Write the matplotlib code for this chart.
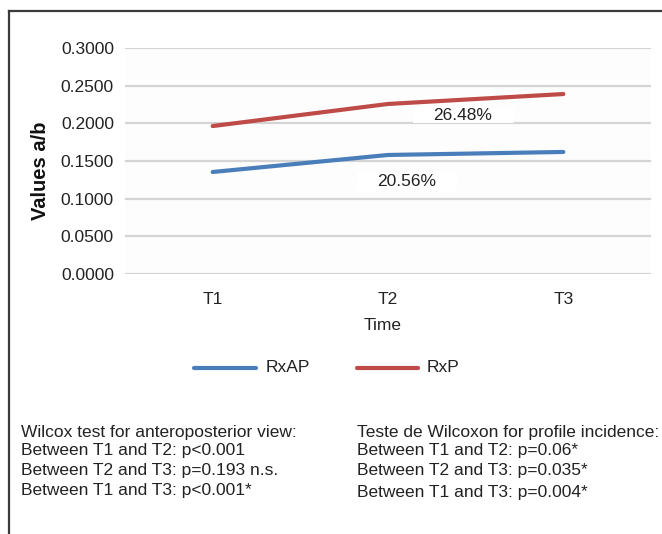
import matplotlib
matplotlib.use("Agg")
import matplotlib.pyplot as plt
from matplotlib.lines import Line2D
from matplotlib.patches import Rectangle

plt.rcParams['font.family'] = ['Liberation Sans', 'DejaVu Sans']

categories = ["T1", "T2", "T3"]
rxap = [0.1354, 0.1580, 0.1620]
rxp = [0.1964, 0.2257, 0.2389]
yticks = [0.0, 0.05, 0.10, 0.15, 0.20, 0.25, 0.30]
series_names = ["RxAP", "RxP"]
pct_labels = ["26.48%", "20.56%"]
left_notes = ["Wilcox test for anteroposterior view:",
              "Between T1 and T2: p<0.001",
              "Between T2 and T3: p=0.193 n.s.",
              "Between T1 and T3: p<0.001*"]
right_notes = ["Teste de Wilcoxon for profile incidence:",
               "Between T1 and T2: p=0.06*",
               "Between T2 and T3: p=0.035*",
               "Between T1 and T3: p=0.004*"]

W, H = 662, 534
blue = "#4a7ebb"
red = "#be4b48"
txt = "#222222"
FS = 12.5

fig = plt.figure(figsize=(W / 100, H / 100), dpi=100)
fig.patch.set_facecolor("white")

def fx(px):
    return px / W

def fy(py):
    return 1 - py / H

# outer border (top and left visible)
fig.add_artist(Line2D([fx(9), fx(662)], [fy(11), fy(11)], color="#3a3a3a", lw=1.6))
fig.add_artist(Line2D([fx(9), fx(9)], [fy(11), fy(534)], color="#3a3a3a", lw=1.6))

ax = fig.add_axes([fx(125), fy(274), fx(651) - fx(125), (274 - 48) / H])
x = list(range(len(categories)))
ax.plot(x, rxap, color=blue, lw=3, solid_capstyle="round", zorder=3)
ax.plot(x, rxp, color=red, lw=3, solid_capstyle="round", zorder=3)

ax.set_xlim(-0.5, 2.5)
ax.set_ylim(0, 0.3)
ax.set_yticks(yticks)
ax.set_yticklabels([f"{v:.4f}" for v in yticks], fontsize=FS, color=txt)
ax.set_xticks(x)
ax.set_xticklabels(categories, fontsize=FS, color=txt)
ax.tick_params(axis="both", length=0)
ax.tick_params(axis="y", pad=8)
ax.tick_params(axis="x", pad=13)
for s in ax.spines.values():
    s.set_visible(False)
ax.set_axisbelow(True)
ax.yaxis.grid(True, color="#d4d4d4", lw=1.6)
ax.set_facecolor("#fdfdfd")

# label boxes (white) drawn in figure pixel space
fig.add_artist(Rectangle((fx(413), fy(123)), fx(514) - fx(413), fy(107) - fy(123),
                         facecolor="white", edgecolor="none", zorder=5))
fig.add_artist(Rectangle((fx(357), fy(191)), fx(457) - fx(357), fy(172) - fy(191),
                         facecolor="white", edgecolor="none", zorder=5))
fig.text(fx(463), fy(116), pct_labels[0], fontsize=FS, ha="center", va="center", color=txt, zorder=6)
fig.text(fx(407), fy(182), pct_labels[1], fontsize=FS, ha="center", va="center", color=txt, zorder=6)

fig.text(fx(40), fy(171), "Values a/b", rotation=90, fontsize=14.5, fontweight="bold",
         ha="center", va="center", color="#111111")
fig.text(fx(383), fy(325), "Time", fontsize=FS, ha="center", va="center", color=txt)

# legend
fig.add_artist(Line2D([fx(194), fx(256)], [fy(368), fy(368)], color=blue, lw=3, solid_capstyle="round"))
fig.text(fx(266), fy(368), series_names[0], fontsize=FS, ha="left", va="center", color=txt)
fig.add_artist(Line2D([fx(357), fx(418)], [fy(368), fy(368)], color=red, lw=3, solid_capstyle="round"))
fig.text(fx(427), fy(368), series_names[1], fontsize=FS, ha="left", va="center", color=txt)

left_y = [432, 451, 470, 490]
right_y = [432, 451, 471, 492]
for t, yy in zip(left_notes, left_y):
    fig.text(fx(21), fy(yy), t, fontsize=FS, ha="left", va="center", color=txt)
for t, yy in zip(right_notes, right_y):
    fig.text(fx(357), fy(yy), t, fontsize=FS, ha="left", va="center", color=txt)

fig.savefig("out.png", dpi=100)
